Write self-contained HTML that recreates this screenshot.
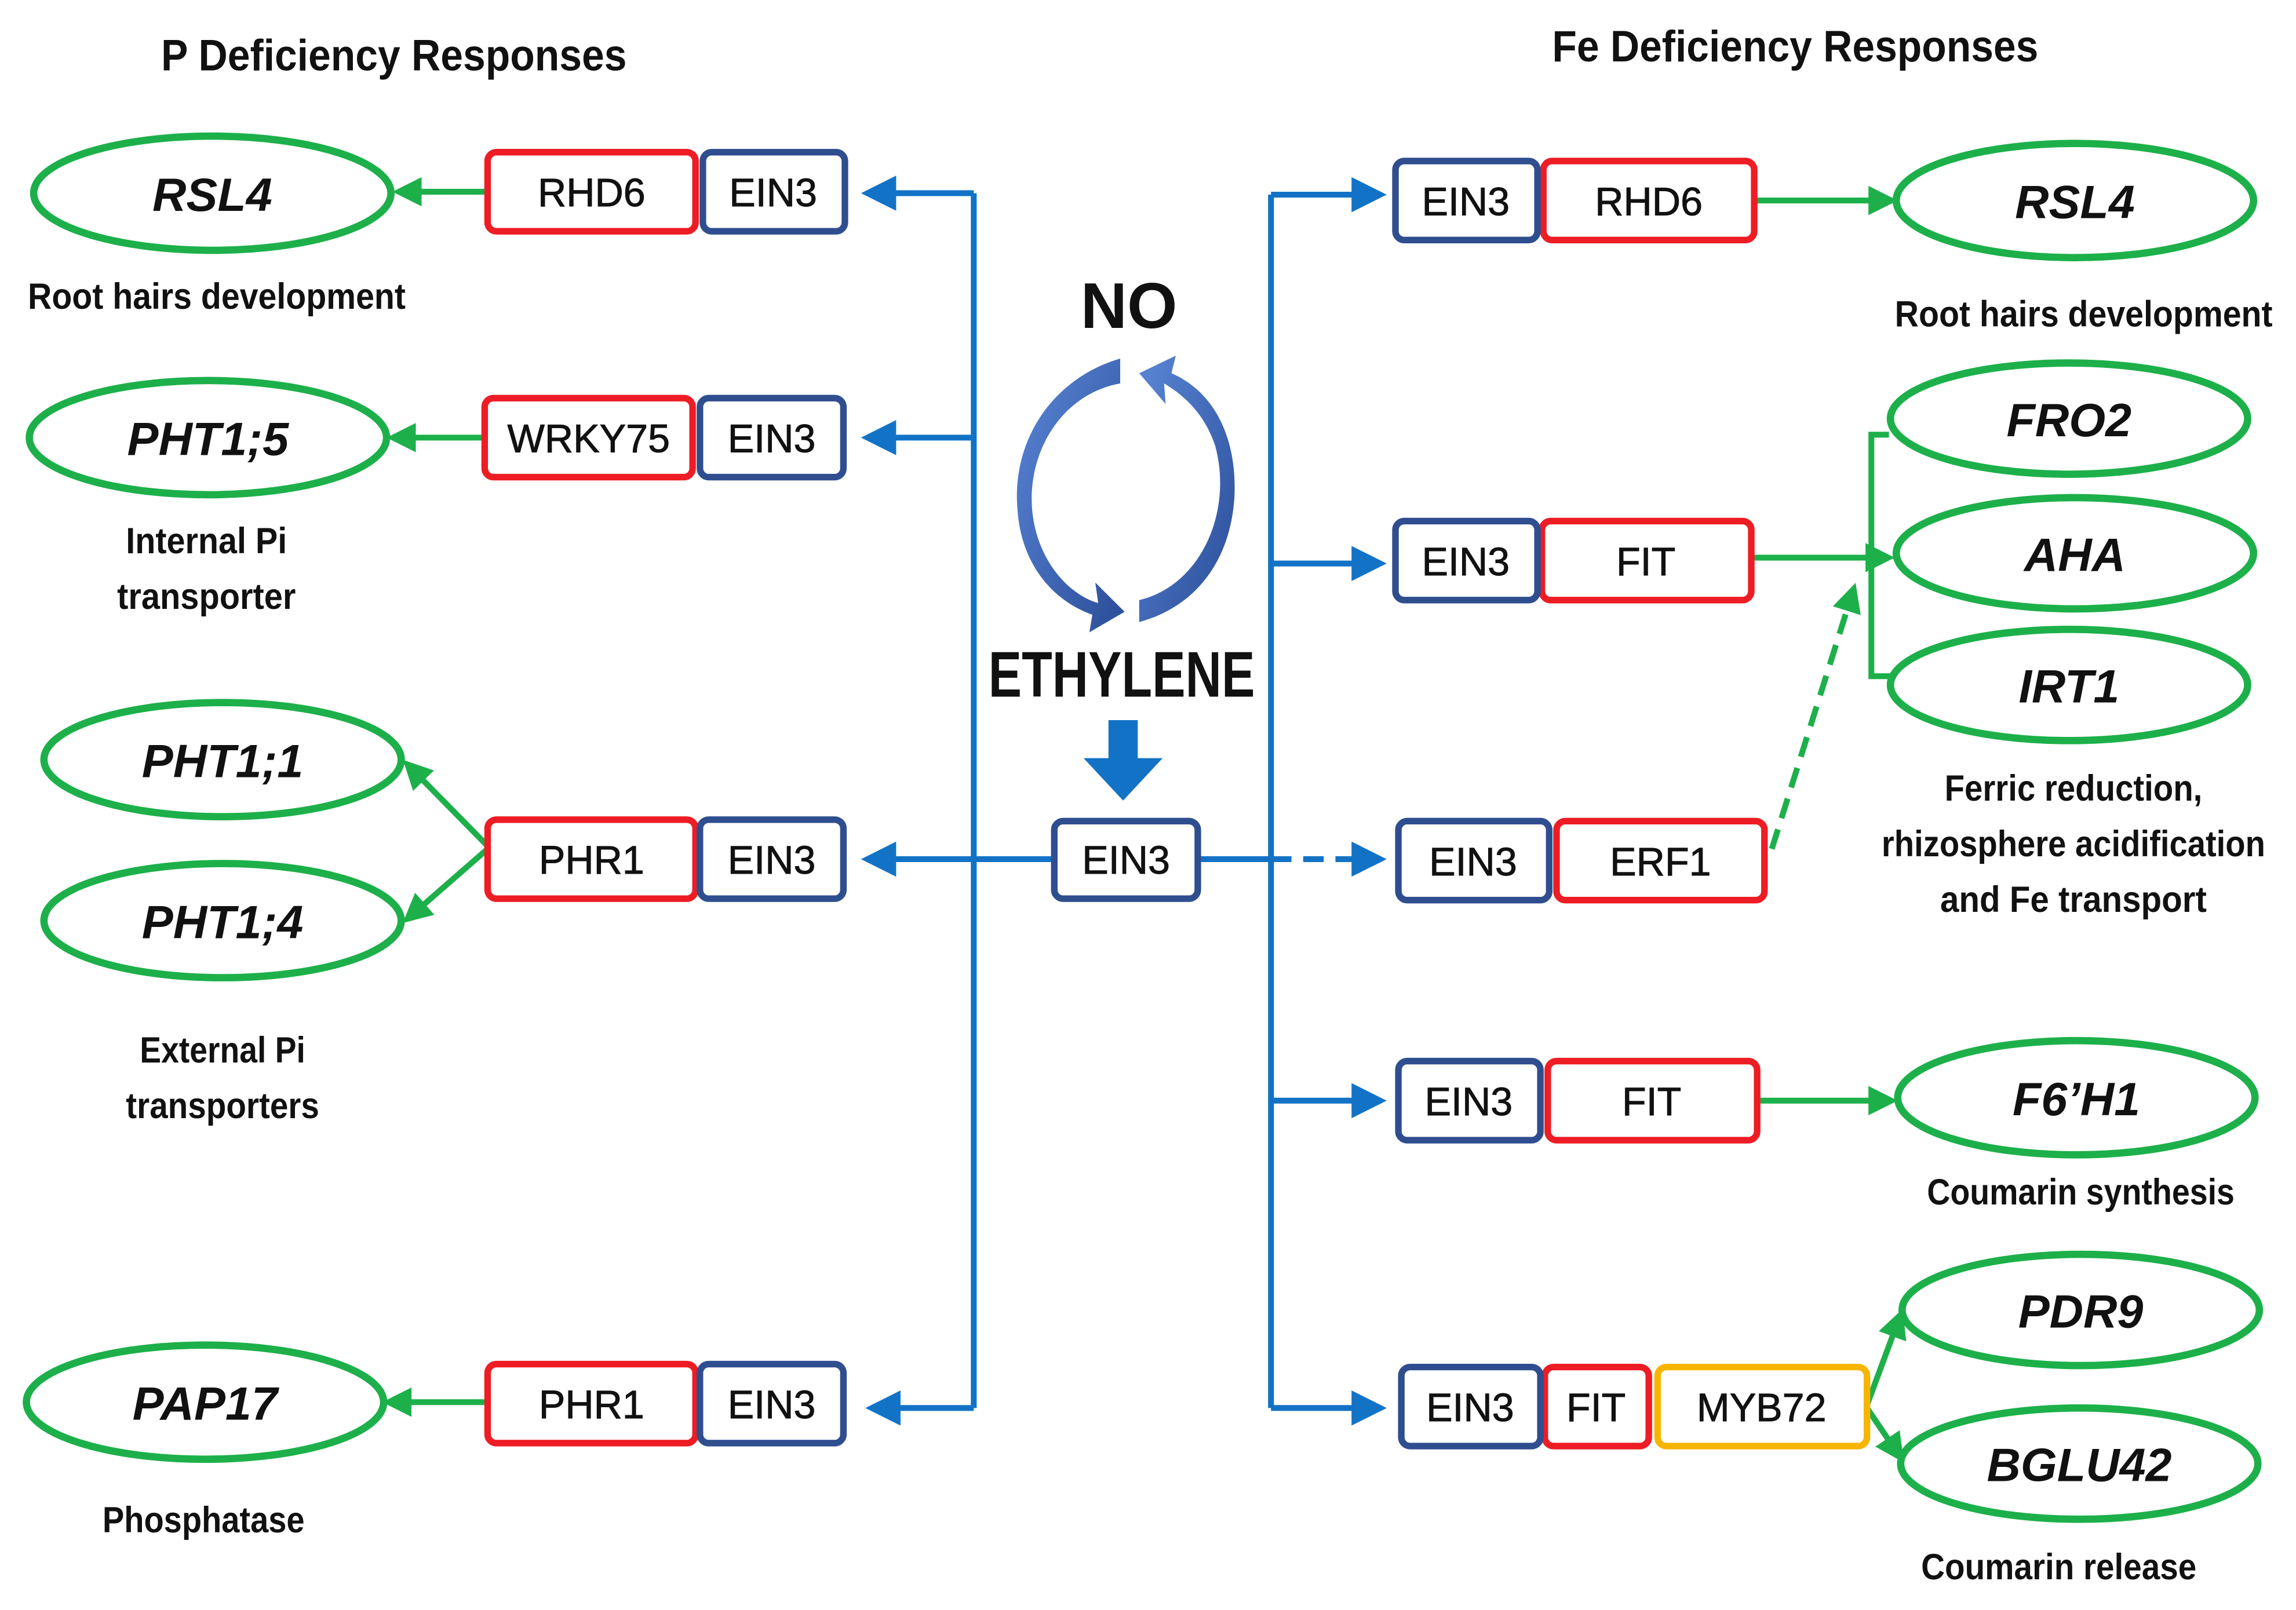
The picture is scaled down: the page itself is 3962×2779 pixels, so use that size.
<!DOCTYPE html>
<html><head><meta charset="utf-8"><style>html,body{margin:0;padding:0;background:#fff}svg{display:block}</style></head>
<body>
<svg width="3962" height="2779" viewBox="0 0 1568 1100" preserveAspectRatio="none" xmlns="http://www.w3.org/2000/svg" font-family="Liberation Sans, sans-serif">
<defs>
<marker id="bl" markerWidth="6" markerHeight="6" refX="5" refY="3" orient="auto" markerUnits="strokeWidth"><path d="M0,0 L6,3 L0,6 z" fill="#1273c6"/></marker>
<marker id="gr" markerWidth="5" markerHeight="5" refX="4" refY="2.5" orient="auto" markerUnits="strokeWidth"><path d="M0,0 L5,2.5 L0,5 z" fill="#1db04a"/></marker>
<linearGradient id="cg" x1="0" y1="0" x2="1" y2="1"><stop offset="0" stop-color="#5a86d6"/><stop offset="1" stop-color="#2a4d98"/></linearGradient>
</defs>
<g font-weight="bold" fill="#111">
<text x="110" y="48" font-size="30" textLength="318" lengthAdjust="spacingAndGlyphs">P Deficiency Responses</text>
<text x="1060" y="42" font-size="30" textLength="332" lengthAdjust="spacingAndGlyphs">Fe Deficiency Responses</text>
</g>
<g stroke="#1273c6" stroke-width="4" fill="none">
<path d="M665,132 V962"/>
<path d="M868,133 V962"/>
<path d="M665,132 H592" marker-end="url(#bl)"/>
<path d="M665,299 H592" marker-end="url(#bl)"/>
<path d="M720,587 H592" marker-end="url(#bl)"/>
<path d="M665,962 H595" marker-end="url(#bl)"/>
<path d="M868,133 H943" marker-end="url(#bl)"/>
<path d="M868,385 H943" marker-end="url(#bl)"/>
<path d="M818,587 H868"/>
<path d="M868,587 H943" stroke-dasharray="14,8" marker-end="url(#bl)"/>
<path d="M868,752 H943" marker-end="url(#bl)"/>
<path d="M868,962 H943" marker-end="url(#bl)"/>
</g>
<path d="M757,492 H777 V518 H794 L767,547 L740,518 H757 Z" fill="#1273c6"/>
<path d="M765,262 C720,270 695,320 708,365 C716,392 735,408 750,412 L748,398 L768,418 L744,432 L746,420 C718,410 698,385 695,350 C690,300 720,258 765,245 Z" fill="url(#cg)"/>
<path d="M778,410 C820,400 842,350 830,305 C822,280 805,268 795,262 L796,276 L778,255 L803,243 L800,255 C830,268 845,300 843,340 C840,385 815,415 778,425 Z" fill="url(#cg)"/>
<g font-weight="bold" fill="#111" text-anchor="middle">
<text x="771" y="224" font-size="44">NO</text>
<text x="766" y="476" font-size="44" textLength="182" lengthAdjust="spacingAndGlyphs">ETHYLENE</text>
</g>
<g stroke="#1db04a" stroke-width="4" fill="none">
<path d="M333,131 H272" marker-end="url(#gr)"/>
<path d="M331,299 H268" marker-end="url(#gr)"/>
<path d="M333,578 L278,522" marker-end="url(#gr)"/>
<path d="M333,580 L278,628" marker-end="url(#gr)"/>
<path d="M333,958 H265" marker-end="url(#gr)"/>
<path d="M1198,137 H1292" marker-end="url(#gr)"/>
<path d="M1196,381 H1290" marker-end="url(#gr)"/>
<path d="M1290,297 H1278 V462 H1292"/>
<path d="M1210,580 L1266,402" stroke-dasharray="14,8" marker-end="url(#gr)"/>
<path d="M1200,752 H1292" marker-end="url(#gr)"/>
<path d="M1275,960 L1298,898" marker-end="url(#gr)"/>
<path d="M1275,962 L1298,996" marker-end="url(#gr)"/>
</g>
<g fill="#fff" stroke="#1db04a" stroke-width="5">
<ellipse cx="145" cy="132" rx="122" ry="39"/>
<ellipse cx="142" cy="299" rx="122" ry="39"/>
<ellipse cx="152" cy="519" rx="122" ry="39"/>
<ellipse cx="152" cy="629" rx="122" ry="39"/>
<ellipse cx="140" cy="958" rx="122" ry="39"/>
<ellipse cx="1417" cy="137" rx="122" ry="39"/>
<ellipse cx="1413" cy="286" rx="122" ry="38"/>
<ellipse cx="1417" cy="378" rx="122" ry="38"/>
<ellipse cx="1413" cy="468" rx="122" ry="38"/>
<ellipse cx="1418" cy="750" rx="122" ry="39"/>
<ellipse cx="1421" cy="895" rx="122" ry="38"/>
<ellipse cx="1420" cy="1000" rx="122" ry="38"/>
</g>
<g font-weight="bold" font-style="italic" font-size="32" fill="#111" text-anchor="middle">
<text x="145" y="144">RSL4</text>
<text x="142" y="311">PHT1;5</text>
<text x="152" y="531">PHT1;1</text>
<text x="152" y="641">PHT1;4</text>
<text x="140" y="970">PAP17</text>
<text x="1417" y="149">RSL4</text>
<text x="1413" y="298">FRO2</text>
<text x="1417" y="390">AHA</text>
<text x="1413" y="480">IRT1</text>
<text x="1418" y="762">F6’H1</text>
<text x="1421" y="907">PDR9</text>
<text x="1420" y="1012">BGLU42</text>
</g>
<g fill="#fff" stroke-width="4.5">
<g stroke="#ee1c24">
<rect x="333" y="104" width="142" height="54" rx="6"/>
<rect x="331" y="272" width="142" height="54" rx="6"/>
<rect x="333" y="560" width="142" height="54" rx="6"/>
<rect x="333" y="932" width="142" height="54" rx="6"/>
<rect x="1054" y="110" width="144" height="54" rx="6"/>
<rect x="1053" y="356" width="143" height="54" rx="6"/>
<rect x="1063" y="561" width="142" height="54" rx="6"/>
<rect x="1057" y="725" width="143" height="54" rx="6"/>
<rect x="1055" y="934" width="71" height="54" rx="6"/>
</g>
<g stroke="#2f4e8f">
<rect x="480" y="104" width="97" height="54" rx="6"/>
<rect x="478" y="272" width="98" height="54" rx="6"/>
<rect x="478" y="560" width="98" height="54" rx="6"/>
<rect x="478" y="932" width="98" height="54" rx="6"/>
<rect x="720" y="561" width="98" height="53" rx="6"/>
<rect x="953" y="110" width="97" height="54" rx="6"/>
<rect x="953" y="356" width="97" height="54" rx="6"/>
<rect x="955" y="561" width="103" height="54" rx="6"/>
<rect x="955" y="725" width="97" height="54" rx="6"/>
<rect x="957" y="934" width="95" height="54" rx="6"/>
</g>
<rect x="1132" y="934" width="143" height="54" rx="6" stroke="#f7b500"/>
</g>
<g font-size="27" fill="#111" text-anchor="middle" stroke="#111" stroke-width="0.4">
<text x="404" y="141">RHD6</text><text x="528" y="141">EIN3</text>
<text x="402" y="309">WRKY75</text><text x="527" y="309">EIN3</text>
<text x="404" y="597">PHR1</text><text x="527" y="597">EIN3</text>
<text x="404" y="969">PHR1</text><text x="527" y="969">EIN3</text>
<text x="769" y="597">EIN3</text>
<text x="1001" y="147">EIN3</text><text x="1126" y="147">RHD6</text>
<text x="1001" y="393">EIN3</text><text x="1124" y="393">FIT</text>
<text x="1006" y="598">EIN3</text><text x="1134" y="598">ERF1</text>
<text x="1003" y="762">EIN3</text><text x="1128" y="762">FIT</text>
<text x="1004" y="971">EIN3</text><text x="1090" y="971">FIT</text><text x="1203" y="971">MYB72</text>
</g>
<g font-size="25" font-weight="bold" fill="#111" text-anchor="middle" lengthAdjust="spacingAndGlyphs">
<text x="148" y="211" textLength="258" lengthAdjust="spacingAndGlyphs">Root hairs development</text>
<text x="141" y="378" textLength="110" lengthAdjust="spacingAndGlyphs">Internal Pi</text>
<text x="141" y="416" textLength="122" lengthAdjust="spacingAndGlyphs">transporter</text>
<text x="152" y="726" textLength="113" lengthAdjust="spacingAndGlyphs">External Pi</text>
<text x="152" y="764" textLength="132" lengthAdjust="spacingAndGlyphs">transporters</text>
<text x="139" y="1047" textLength="138" lengthAdjust="spacingAndGlyphs">Phosphatase</text>
<text x="1423" y="223" textLength="258" lengthAdjust="spacingAndGlyphs">Root hairs development</text>
<text x="1416" y="547" textLength="176" lengthAdjust="spacingAndGlyphs">Ferric reduction,</text>
<text x="1416" y="585" textLength="262" lengthAdjust="spacingAndGlyphs">rhizosphere acidification</text>
<text x="1416" y="623" textLength="182" lengthAdjust="spacingAndGlyphs">and  Fe transport</text>
<text x="1421" y="823" textLength="210" lengthAdjust="spacingAndGlyphs">Coumarin synthesis</text>
<text x="1406" y="1079" textLength="188" lengthAdjust="spacingAndGlyphs">Coumarin release</text>
</g>
</svg>
</body></html>
